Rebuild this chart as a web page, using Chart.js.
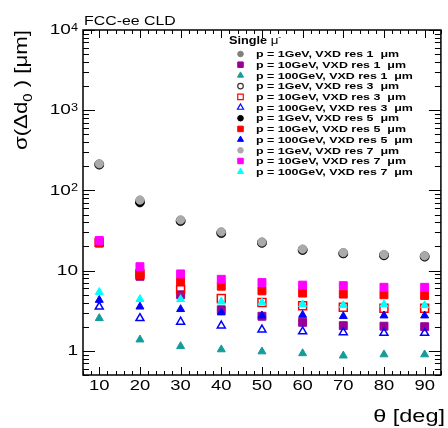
<!DOCTYPE html>
<html>
<head>
<meta charset="utf-8">
<script src="https://cdn.jsdelivr.net/npm/chart.js@4.4.0/dist/chart.umd.min.js"></script>
<style>
  body { margin: 0; background: #fff; }
  canvas { display: block; }
</style>
</head>
<body>
<canvas id="d0res" width="448" height="428"></canvas>
<script>
// theta values (deg) shared by every series
const thetaDeg = [10, 20, 30, 40, 50, 60, 70, 80, 90];

// sigma(delta d0) in micrometres
const p1Res1 = [208, 70, 41, 29, 22, 18, 16.3, 15.4, 14.8];
const p10Res1 = [22, 8.5, 5.0, 3.25, 2.7, 2.27, 2.06, 2.03, 2.0];
const p100Res1 = [2.55, 1.38, 1.14, 1.04, 0.98, 0.93, 0.87, 0.9, 0.9];
const p1Res3 = [210, 72, 41.5, 29.5, 22.3, 18.1, 16.4, 15.5, 15.0];
const p10Res3 = [22.5, 9.0, 5.8, 4.5, 4.0, 3.65, 3.5, 3.4, 3.4];
const p100Res3 = [3.55, 2.55, 2.3, 2.06, 1.84, 1.74, 1.7, 1.67, 1.67];
const p1Res5 = [212, 71, 42, 29.8, 22.4, 18.2, 16.5, 15.6, 15.1];
const p10Res5 = [22.5, 9.3, 7.3, 6.4, 5.6, 5.25, 5.1, 5.0, 4.9];
const p100Res5 = [4.3, 3.55, 3.3, 3.0, 2.75, 2.8, 2.7, 2.75, 2.75];
const p1Res7 = [215, 76, 43, 30.5, 22.8, 18.6, 16.8, 15.9, 15.3];
const p10Res7 = [23.8, 11.2, 9.1, 7.8, 7.1, 6.6, 6.5, 6.2, 6.2];
const p100Res7 = [5.4, 4.4, 4.4, 4.1, 4.0, 3.8, 3.7, 3.8, 3.7];

const seriesLabels = [
  'p = 1GeV, VXD res 1  \u03bcm', 'p = 10GeV, VXD res 1  \u03bcm', 'p = 100GeV, VXD res 1  \u03bcm',
  'p = 1GeV, VXD res 3  \u03bcm', 'p = 10GeV, VXD res 3  \u03bcm', 'p = 100GeV, VXD res 3  \u03bcm',
  'p = 1GeV, VXD res 5  \u03bcm', 'p = 10GeV, VXD res 5  \u03bcm', 'p = 100GeV, VXD res 5  \u03bcm',
  'p = 1GeV, VXD res 7  \u03bcm', 'p = 10GeV, VXD res 7  \u03bcm', 'p = 100GeV, VXD res 7  \u03bcm',
];
const seriesValues = [p1Res1, p10Res1, p100Res1, p1Res3, p10Res3, p100Res3,
  p1Res5, p10Res5, p100Res5, p1Res7, p10Res7, p100Res7];

const xTickLabels = [10, 20, 30, 40, 50, 60, 70, 80, 90];
const yTickLabels = [1, 10, 100, 1000, 10000];

// marker styles (ROOT-like)
const styles = [
  { shape: 'circle', color: '#808080', open: false },
  { shape: 'rect', color: '#990099', open: false },
  { shape: 'triangle', color: '#149b9b', open: false },
  { shape: 'circle', color: '#333333', open: true },
  { shape: 'rect', color: '#ff0000', open: true },
  { shape: 'triangle', color: '#0000ff', open: true },
  { shape: 'circle', color: '#000000', open: false },
  { shape: 'rect', color: '#ff0000', open: false },
  { shape: 'triangle', color: '#0000ff', open: false },
  { shape: 'circle', color: '#aaaaaa', open: false },
  { shape: 'rect', color: '#ff00ff', open: false },
  { shape: 'triangle', color: '#00ffff', open: false },
];
const radiusFor = { circle: 4.2, rect: 5.6, triangle: 4.6 };

const FONT = '"Liberation Sans", Arial, Helvetica, sans-serif';
const SX = 1.27; // the original picture is squeezed vertically

function stretchText(ctx, txt, x, y, size, opts = {}) {
  ctx.save();
  ctx.font = (opts.bold ? 'bold ' : '') + size + 'px ' + FONT;
  ctx.textBaseline = opts.baseline || 'alphabetic';
  ctx.textAlign = 'left';
  const w = ctx.measureText(txt).width * SX;
  let x0 = x;
  if (opts.align === 'right') x0 = x - w;
  else if (opts.align === 'center') x0 = x - w / 2;
  ctx.translate(x0, y);
  ctx.scale(SX, 1);
  ctx.fillStyle = '#000';
  ctx.fillText(txt, 0, 0);
  ctx.restore();
  return w;
}

function textWidth(ctx, txt, size, bold) {
  ctx.save();
  ctx.font = (bold ? 'bold ' : '') + size + 'px ' + FONT;
  const w = ctx.measureText(txt).width * SX;
  ctx.restore();
  return w;
}

function marker(ctx, st, x, y, r) {
  ctx.save();
  ctx.beginPath();
  if (st.shape === 'circle') {
    ctx.arc(x, y, r, 0, Math.PI * 2);
  } else if (st.shape === 'rect') {
    const s = r * Math.SQRT1_2;
    ctx.rect(x - s, y - s, 2 * s, 2 * s);
  } else {
    ctx.moveTo(x, y - r);
    ctx.lineTo(x + r * Math.sin(2 * Math.PI / 3), y - r * Math.cos(2 * Math.PI / 3));
    ctx.lineTo(x + r * Math.sin(4 * Math.PI / 3), y - r * Math.cos(4 * Math.PI / 3));
    ctx.closePath();
  }
  ctx.lineWidth = st.open ? 1.2 : 1;
  ctx.strokeStyle = st.color;
  if (!st.open) {
    ctx.fillStyle = st.color;
    ctx.fill();
  }
  ctx.stroke();
  ctx.restore();
}

const datasets = seriesValues.map((vals, i) => {
  const st = styles[i];
  return {
    label: seriesLabels[i],
    data: thetaDeg.map((t, k) => ({ x: t, y: vals[k] })),
    pointStyle: st.shape,
    pointRadius: radiusFor[st.shape],
    pointBorderWidth: st.open ? 1.5 : 1,
    borderColor: st.color,
    backgroundColor: st.open ? 'rgba(0,0,0,0)' : st.color,
    order: seriesValues.length - i,
  };
});

// frame, inward ticks, labels, titles and legend drawn ROOT style
const rootStyle = {
  id: 'rootStyle',
  afterDraw(chart) {
    const { ctx, chartArea: a } = chart;
    const xs = chart.scales.x;
    const ys = chart.scales.y;
    ctx.save();
    ctx.strokeStyle = '#000';
    ctx.lineWidth = 1.5;
    ctx.strokeRect(a.left, a.top, a.right - a.left, a.bottom - a.top);

    ctx.lineWidth = 1;
    ctx.beginPath();
    for (let v = xs.min; v <= xs.max; v += 2) {
      const px = Math.round(xs.getPixelForValue(v)) + 0.5;
      const len = v % 10 === 0 ? 8 : 4;
      ctx.moveTo(px, a.bottom); ctx.lineTo(px, a.bottom - len);
      ctx.moveTo(px, a.top); ctx.lineTo(px, a.top + len);
    }
    for (let e = -1; e <= 4; e++) {
      for (let m = 1; m <= 9; m++) {
        const v = m * Math.pow(10, e);
        if (v < ys.min || v > ys.max) continue;
        const py = Math.round(ys.getPixelForValue(v)) + 0.5;
        const len = m === 1 ? 12 : 6;
        ctx.moveTo(a.left, py); ctx.lineTo(a.left + len, py);
        ctx.moveTo(a.right, py); ctx.lineTo(a.right - len, py);
      }
    }
    ctx.stroke();

    // x tick labels
    xTickLabels.forEach(v => {
      stretchText(ctx, String(v), xs.getPixelForValue(v), 390, 14.5, { align: 'center' });
    });
    // y tick labels
    yTickLabels.forEach(v => {
      const py = ys.getPixelForValue(v);
      const ex = Math.round(Math.log10(v));
      if (ex < 2) {
        stretchText(ctx, String(v), 78, py, 15, { align: 'right', baseline: 'middle' });
      } else {
        const sw = textWidth(ctx, String(ex), 10);
        stretchText(ctx, '10', 78 - sw, py, 15, { align: 'right', baseline: 'middle' });
        stretchText(ctx, String(ex), 78 - sw, py + 1, 10, {});
      }
    });

    // axis titles
    stretchText(ctx, '\u03b8 [deg]', 445, 422, 18.5, { align: 'right' });

    ctx.save();
    ctx.translate(27, 30);
    ctx.rotate(-Math.PI / 2);
    const parts = [['\u03c3(\u0394d', 18, 0], ['0', 12, 5], [' ) [\u03bcm]', 18, 0]];
    let total = 0;
    parts.forEach(p => { ctx.font = p[1] + 'px ' + FONT; total += ctx.measureText(p[0]).width; });
    const k = 120 / total;
    ctx.scale(k, 1);
    let cx = -total;
    ctx.fillStyle = '#000';
    ctx.textBaseline = 'alphabetic';
    parts.forEach(p => {
      ctx.font = p[1] + 'px ' + FONT;
      ctx.fillText(p[0], cx, p[2]);
      cx += ctx.measureText(p[0]).width;
    });
    ctx.restore();

    // plot label
    stretchText(ctx, 'FCC-ee CLD', 84, 25, 12.5, {});

    // legend
    const w1 = stretchText(ctx, 'Single ', 229, 44, 10, { bold: true });
    const w2 = stretchText(ctx, '\u03bc', 229 + w1, 44, 10.5, {});
    stretchText(ctx, '-', 229 + w1 + w2, 39, 7, {});
    seriesLabels.forEach((lab, i) => {
      const ry = 54 + i * 10.7;
      const st = styles[i];
      marker(ctx, st, 240.5, ry, st.shape === 'rect' ? 3.9 : st.shape === 'triangle' ? 3.5 : 2.8);
      stretchText(ctx, lab, 256, ry + 0.5, 9.8, { bold: true, baseline: 'middle' });
    });
    ctx.restore();
  },
};

new Chart(document.getElementById('d0res').getContext('2d'), {
  type: 'scatter',
  data: { datasets },
  options: {
    responsive: false,
    animation: false,
    events: [],
    layout: { padding: { left: 83, top: 30, right: 5, bottom: 53 } },
    plugins: {
      legend: { display: false },
      title: { display: false },
      tooltip: { enabled: false },
    },
    scales: {
      x: { type: 'linear', min: 6, max: 94, display: false },
      y: { type: 'logarithmic', min: 0.5, max: 10000, display: false },
    },
  },
  plugins: [rootStyle],
});
</script>
</body>
</html>
